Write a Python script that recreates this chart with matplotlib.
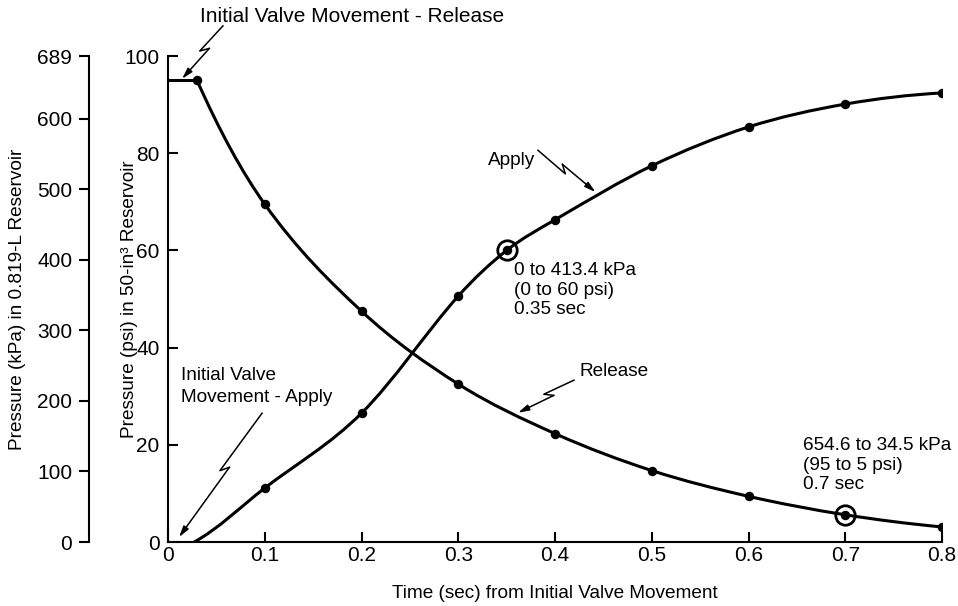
import numpy as np
import matplotlib
matplotlib.use("Agg")
import matplotlib.pyplot as plt
from matplotlib.path import Path
from matplotlib.patches import PathPatch

plt.rcParams['font.family'] = ['Liberation Sans', 'DejaVu Sans']
plt.rcParams['font.size'] = 13.7
plt.rcParams['xtick.labelsize'] = 15
plt.rcParams['ytick.labelsize'] = 15

# valori (psi)
release_t = [0.0, 0.03, 0.1, 0.2, 0.3, 0.4, 0.5, 0.6, 0.7, 0.8]
release_psi = [95, 95, 69.5, 47.5, 32.5, 22.3, 14.7, 9.4, 5.6, 3.1]
apply_t = [0.027, 0.1, 0.2, 0.3, 0.35, 0.4, 0.5, 0.6, 0.7, 0.8]
apply_psi = [0, 11.1, 26.5, 50.6, 60, 66.3, 77.4, 85.4, 90.1, 92.4]

circled = [(0.35, 60), (0.7, 5.6)]

psi_ticks = [0, 20, 40, 60, 80, 100]
kpa_ticks = [0, 100, 200, 300, 400, 500, 600, 689]
time_ticks = [0, 0.1, 0.2, 0.3, 0.4, 0.5, 0.6, 0.7, 0.8]
time_labels = ['0', '0.1', '0.2', '0.3', '0.4', '0.5', '0.6', '0.7', '0.8']

# (testo, posizione, allineamento, dimensione, interlinea, inizio freccia, punta freccia)
callouts = [
    ("Initial Valve Movement - Release", (0.033, 108.2), 'left', 15, 1.1, (0.0568, 106.2), (0.0145, 95.3)),
    ("Apply", (0.3793, 78.6), 'right', 13.7, 1.1, (0.3824, 80.6), (0.4419, 72.0)),
    ("Release", (0.4258, 35.0), 'left', 13.7, 1.1, (0.4196, 33.3), (0.3618, 26.6)),
    ("Initial Valve\nMovement - Apply", (0.0134, 32.0), 'left', 13.7, 1.42, (0.0972, 26.5), (0.0114, 1.0)),
]
notes = [
    ("0 to 413.4 kPa\n(0 to 60 psi)\n0.35 sec", (0.3576, 51.8)),
    ("654.6 to 34.5 kPa\n(95 to 5 psi)\n0.7 sec", (0.6563, 15.8)),
]


def smooth_path(xs, ys, start_k=1.0):
    # curva di Bezier che passa per i punti
    xs = np.asarray(xs, float)
    ys = np.asarray(ys, float)
    h = np.diff(xs)
    s = np.diff(ys) / h
    m = np.empty_like(ys)
    m[1:-1] = (ys[2:] - ys[:-2]) / (xs[2:] - xs[:-2])
    m[0] = (2 * s[0] - m[1]) * start_k
    m[-1] = 2 * s[-1] - m[-2]
    verts = [(xs[0], ys[0])]
    codes = [Path.MOVETO]
    for i in range(len(h)):
        verts += [(xs[i] + h[i] / 3, ys[i] + m[i] * h[i] / 3),
                  (xs[i + 1] - h[i] / 3, ys[i + 1] - m[i + 1] * h[i] / 3),
                  (xs[i + 1], ys[i + 1])]
        codes += [Path.CURVE4] * 3
    return Path(verts, codes)


def bolt(ax, start, end, frac=0.45, jog=4.0, off=3.0):
    # linea a zig-zag con freccia
    tr = ax.transData
    p0 = tr.transform(start)
    p1 = tr.transform(end)
    d = p1 - p0
    u = d / np.hypot(*d)
    n = np.array([-u[1], u[0]])
    mid = p0 + frac * d
    k1 = mid + u * jog - n * off
    k2 = mid - u * jog + n * off
    inv = tr.inverted()
    pts = inv.transform(np.array([p0, k1, k2]))
    ax.plot(pts[:, 0], pts[:, 1], color='k', lw=1.1, clip_on=False)
    ax.annotate('', xy=end, xytext=tuple(pts[2]), annotation_clip=False,
                arrowprops=dict(arrowstyle='-|>,head_length=0.65,head_width=0.18',
                                color='k', lw=1.1, shrinkA=0, shrinkB=0,
                                mutation_scale=10))


fig = plt.figure(figsize=(9.58, 6.06), dpi=100)
rect = [168 / 958, 64 / 606, 774 / 958, 486 / 606]
ax = fig.add_axes(rect)
ax.set_xlim(0, 0.8)
ax.set_ylim(0, 100)

for sp in ['top', 'right']:
    ax.spines[sp].set_visible(False)
for sp in ['left', 'bottom']:
    ax.spines[sp].set_linewidth(1.5)

ax.set_xticks(time_ticks)
ax.set_xticklabels(time_labels)
ax.set_yticks(psi_ticks)
ax.tick_params(axis='both', direction='in', length=7, width=1.5)
ax.tick_params(axis='y', pad=6)
ax.tick_params(axis='x', pad=3)

ax.set_xlabel("Time (sec) from Initial Valve Movement")
ax.xaxis.set_label_coords(0.5, -0.088)
ax.set_ylabel("Pressure (psi) in 50-in³ Reservoir", va='center')
ax.yaxis.set_label_coords(-0.05, 0.5)

# asse in kPa
ax2 = fig.add_axes(rect)
ax2.patch.set_visible(False)
ax2.set_ylim(0, 689)
ax2.set_xlim(0, 0.8)
for sp in ['top', 'right', 'bottom']:
    ax2.spines[sp].set_visible(False)
ax2.spines['left'].set_position(('axes', -79 / 774))
ax2.spines['left'].set_linewidth(1.5)
ax2.set_xticks([])
ax2.set_yticks(kpa_ticks)
ax2.tick_params(axis='y', direction='out', length=7, width=1.5, pad=5)
ax2.set_ylabel("Pressure (kPa) in 0.819-L Reservoir", va='center')
ax2.yaxis.set_label_coords(-0.194, 0.5)

# curve
ax.plot(release_t[:2], release_psi[:2], color='k', lw=2.2, solid_capstyle='butt')
ax.add_patch(PathPatch(smooth_path(release_t[1:], release_psi[1:]),
                       facecolor='none', edgecolor='k', lw=2.2))
ax.add_patch(PathPatch(smooth_path(apply_t, apply_psi, start_k=0.7),
                       facecolor='none', edgecolor='k', lw=2.2))
ax.plot(release_t[1:], release_psi[1:], 'o', color='k', ms=5.8)
ax.plot(apply_t[1:], apply_psi[1:], 'o', color='k', ms=5.8)
for cx, cy in circled:
    ax.plot(cx, cy, 'o', ms=14, mfc='none', mec='k', mew=2.0)

for txt, pos, ha, fs, ls, a, b in callouts:
    ax.text(pos[0], pos[1], txt, ha=ha, va='center', fontsize=fs,
            linespacing=ls, clip_on=False)
    bolt(ax, a, b)

for txt, pos in notes:
    ax.text(pos[0], pos[1], txt, ha='left', va='center', linespacing=1.2)

fig.savefig('out.png', dpi=100)
